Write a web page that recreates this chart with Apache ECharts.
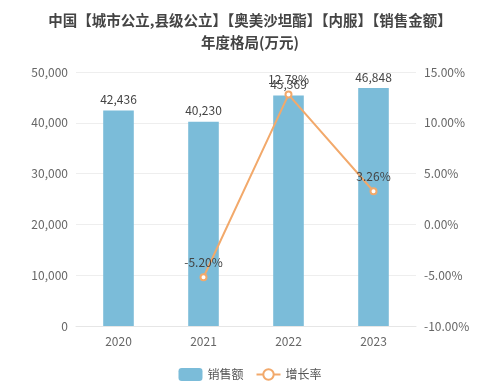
<!DOCTYPE html>
<html><head><meta charset="utf-8">
<script src="https://cdn.jsdelivr.net/npm/echarts@6/dist/echarts.min.js"></script>
<style>html,body{margin:0;padding:0;background:#fff}#c{width:500px;height:384px}</style>
</head><body><div id="c"></div>
<script>
const categories = ['2020', '2021', '2022', '2023'];
const sales = [42436, 40230, 45369, 46848];
const growth = [null, -5.20, 12.78, 3.26];
const titleLines = ['中国【城市公立,县级公立】【奥美沙坦酯】【内服】【销售金额】', '年度格局(万元)'];

const chart = echarts.init(document.getElementById('c'));
chart.setOption({
  animation: false,
  textStyle: { fontFamily: '"Noto Sans CJK SC", "Open Sans", sans-serif' },
  title: {
    text: titleLines.join('\n'), left: 'center', top: 4,
    textStyle: { fontSize: 14.5, fontWeight: 'bold', color: '#444', lineHeight: 22 }
  },
  legend: {
    bottom: -2, left: 'center', itemWidth: 24, itemHeight: 13, itemGap: 12,
    textStyle: { fontSize: 12, color: '#555' },
    data: [{ name: '销售额', icon: 'roundRect' }, { name: '增长率' }]
  },
  grid: { left: 76, right: 84, top: 72, bottom: 58 },
  xAxis: {
    type: 'category', data: categories,
    axisLine: { lineStyle: { color: '#e6e6e6' } }, axisTick: { show: false },
    axisLabel: { color: '#666', fontSize: 12, margin: 9 }
  },
  yAxis: [
    { type: 'value', min: 0, max: 50000, interval: 10000,
      axisLabel: { color: '#666', fontSize: 12, formatter: v => v.toLocaleString('en-US') },
      splitLine: { lineStyle: { color: '#eeeeee' } } },
    { type: 'value', min: -10, max: 15, interval: 5,
      axisLabel: { color: '#666', fontSize: 12, formatter: v => v.toFixed(2) + '%' },
      splitLine: { show: false } }
  ],
  series: [
    { name: '销售额', type: 'bar', data: sales, barWidth: '36%',
      itemStyle: { color: '#7bbcd9' },
      label: { show: true, position: 'top', color: '#444', fontSize: 12,
        formatter: p => p.value.toLocaleString('en-US') } },
    { name: '增长率', type: 'line', yAxisIndex: 1, data: growth,
      symbol: 'emptyCircle', symbolSize: 6,
      lineStyle: { color: '#f2a96b', width: 2 }, itemStyle: { color: '#f2a96b' },
      label: { show: true, position: 'top', color: '#444', fontSize: 12,
        formatter: p => p.value.toFixed(2) + '%' } }
  ]
});
</script></body></html>
